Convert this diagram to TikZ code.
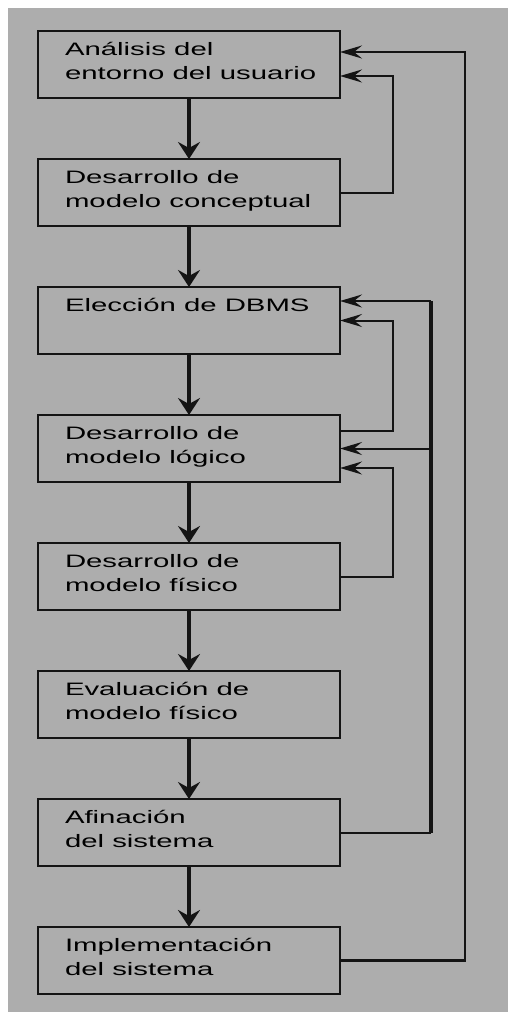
\documentclass[tikz,border=0pt]{standalone}
\usepackage{fontspec}
\setmainfont{Liberation Sans}[FakeStretch=1.63]
\definecolor{flujo_fondo}{RGB}{173, 173, 173}
\definecolor{flujo_linea}{RGB}{20, 20, 20}
\usepackage{tikz}
\usetikzlibrary{arrows.meta, positioning, calc}
\newcommand{\etapa}[1]{\parbox[c][67pt][t]{276pt}{\leftskip=14pt\rightskip=0pt plus 1fil\rule{0pt}{24pt}#1}}

\begin{document}
\begin{tikzpicture}[
    every node/.style={font=\fontsize{18pt}{24pt}\selectfont},
    stagebox/.style={draw=flujo_linea, fill=flujo_fondo, line width=2.2pt,
      minimum width=302pt, minimum height=67pt, inner sep=0pt, outer sep=0pt},
    flow/.style={draw=flujo_linea, line width=3.6pt,
      -{Stealth[length=17pt, width=22pt, inset=6pt]}},
    back/.style={draw=flujo_linea, line width=2pt,
      -{Stealth[length=22pt, width=13pt, inset=8pt]}},
    wire/.style={draw=flujo_linea, line width=2pt}
  ]
        % Fondo
        \useasboundingbox (0,0) rectangle (508pt,-1012pt);
        \fill[flujo_fondo] (8pt,-8pt) rectangle (508pt,-1012pt);

        % Etapas
        \node[stagebox] (b1) at (189pt,-64.5pt) {\etapa{Análisis del\\entorno del usuario}};
        \node[stagebox, below=61pt of b1] (b2) {\etapa{Desarrollo de\\modelo conceptual}};
        \node[stagebox, below=61pt of b2] (b3) {\etapa{Elección de DBMS}};
        \node[stagebox, below=61pt of b3] (b4) {\etapa{Desarrollo de\\modelo lógico}};
        \node[stagebox, below=61pt of b4] (b5) {\etapa{Desarrollo de\\modelo físico}};
        \node[stagebox, below=61pt of b5] (b6) {\etapa{Evaluación de\\modelo físico}};
        \node[stagebox, below=61pt of b6] (b7) {\etapa{Afinación\\del sistema}};
        \node[stagebox, below=61pt of b7] (b8) {\etapa{Implementación\\del sistema}};

        % Flechas hacia abajo
        \foreach \a/\b in {b1/b2, b2/b3, b3/b4, b4/b5, b5/b6, b6/b7, b7/b8} {
          \draw[flow] (\a) -- (\b);
        }

        % Retornos
        \draw[back] (b2.east) -- ++(53pt,0) |- ($(b1.east)+(0,-11.5pt)$);
        \draw[back, line width=2.6pt] (b8.east) -- ++(125pt,0) |- ($(b1.east)+(0,12.5pt)$);
        \draw[back] ($(b4.east)+(0,17.5pt)$) -- ++(53pt,0) |- (b3.east);
        \draw[back] (b5.east) -- ++(53pt,0) |- ($(b4.east)+(0,-19.5pt)$);

        % Retorno desde la afinación
        \coordinate (afin) at ($(b7.east)+(91pt,0)$);
        \coordinate (afin_top) at ($(b3.east)+(91pt,19.5pt)$);
        \draw[wire] (b7.east) -- (afin);
        \draw[wire, line width=4pt] (afin) -- (afin_top);
        \draw[back] (afin_top) -- ($(b3.east)+(0,19.5pt)$);
        \draw[back] (afin |- b4.east) -- (b4.east);
      \end{tikzpicture}
\end{document}
